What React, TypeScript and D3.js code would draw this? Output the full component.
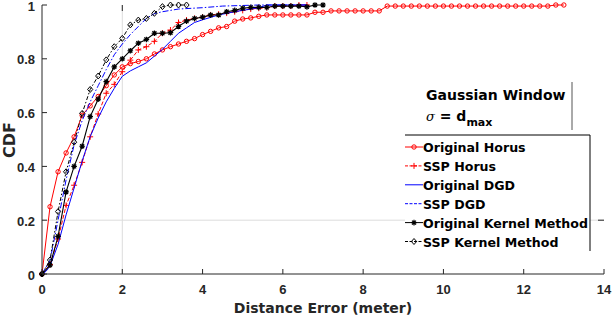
import React from 'react';
import * as d3 from 'd3';

// CDF curves (distance error in meter, cumulative fraction)
const originalHorus: [number, number][] = [
  [0, 0], [0.2, 0.25], [0.4, 0.38], [0.6, 0.45], [0.8, 0.51], [1.0, 0.59], [1.2, 0.625], [1.4, 0.66],
  [1.6, 0.7], [1.8, 0.74], [2.0, 0.77], [2.2, 0.782], [2.4, 0.79], [2.6, 0.8], [2.8, 0.818], [3.0, 0.833],
  [3.2, 0.845], [3.4, 0.855], [3.6, 0.865], [3.8, 0.875], [4.0, 0.89], [4.2, 0.902], [4.4, 0.915],
  [4.6, 0.92], [4.8, 0.94], [5.0, 0.948], [5.2, 0.952], [5.4, 0.958], [5.6, 0.963], [5.8, 0.963],
  [6.0, 0.963], [6.2, 0.963], [6.4, 0.963], [6.6, 0.963], [6.8, 0.973], [7.0, 0.973], [7.2, 0.978],
  [7.4, 0.978], [7.6, 0.978], [7.8, 0.978], [8.0, 0.978], [8.2, 0.978], [8.4, 0.978], [8.6, 0.996],
  [8.8, 0.996], [9.0, 0.996], [9.2, 0.996], [9.4, 0.996], [9.6, 0.996], [9.8, 0.996], [10.0, 0.996],
  [10.2, 0.996], [10.4, 0.996], [10.6, 0.996], [10.8, 0.996], [11.0, 0.996], [11.2, 0.996], [11.4, 0.996],
  [11.6, 0.996], [11.8, 0.996], [12.0, 0.996], [12.2, 0.996], [12.4, 0.996], [12.6, 0.996], [12.8, 1],
  [13.0, 1],
];

const sspHorus: [number, number][] = [
  [0, 0], [0.2, 0.035], [0.4, 0.13], [0.6, 0.255], [0.8, 0.33], [1.0, 0.415], [1.2, 0.51], [1.4, 0.595],
  [1.6, 0.672], [1.8, 0.705], [2.0, 0.752], [2.2, 0.795], [2.4, 0.833], [2.6, 0.845], [2.8, 0.865],
  [3.0, 0.895], [3.2, 0.907], [3.4, 0.935], [3.6, 0.944], [3.8, 0.95], [4.0, 0.955], [4.2, 0.963],
  [4.4, 0.966], [4.6, 0.97], [4.8, 0.975], [5.0, 0.98], [5.2, 0.985], [5.4, 0.988], [5.6, 0.99],
  [5.8, 0.996], [6.0, 0.996], [6.2, 0.996], [6.4, 1], [6.6, 1],
];

const originalDGD: [number, number][] = [
  [0, 0], [0.1, 0.01], [0.2, 0.03], [0.4, 0.11], [0.6, 0.22], [0.8, 0.32], [1.0, 0.42], [1.2, 0.51],
  [1.4, 0.58], [1.6, 0.64], [1.8, 0.69], [2.0, 0.735], [2.2, 0.755], [2.4, 0.77], [2.6, 0.785],
  [2.8, 0.81], [3.0, 0.835], [3.2, 0.865], [3.4, 0.895], [3.6, 0.915], [3.8, 0.935], [4.0, 0.945],
  [4.4, 0.963], [4.8, 0.975], [5.2, 0.985], [5.4, 0.99], [5.6, 1], [6.6, 1],
];

const sspDGD: [number, number][] = [
  [0, 0], [0.2, 0.05], [0.4, 0.2], [0.6, 0.35], [0.8, 0.48], [1.0, 0.57], [1.2, 0.64], [1.4, 0.7],
  [1.6, 0.76], [1.8, 0.815], [2.0, 0.855], [2.2, 0.89], [2.4, 0.92], [2.6, 0.95], [2.8, 0.968],
  [3.0, 0.975], [3.4, 0.985], [4.0, 0.99], [4.5, 0.996], [5.4, 1], [6.6, 1],
];

const originalKernel: [number, number][] = [
  [0, 0], [0.2, 0.033], [0.4, 0.14], [0.6, 0.305], [0.8, 0.4], [1.0, 0.475], [1.2, 0.585], [1.4, 0.65],
  [1.6, 0.715], [1.8, 0.77], [2.0, 0.8], [2.2, 0.83], [2.4, 0.858], [2.6, 0.872], [2.8, 0.895],
  [3.0, 0.895], [3.2, 0.897], [3.4, 0.92], [3.6, 0.94], [3.8, 0.95], [4.0, 0.955], [4.2, 0.963],
  [4.4, 0.963], [4.6, 0.975], [4.8, 0.98], [5.0, 0.988], [5.2, 0.991], [5.4, 0.991], [5.6, 0.991],
  [5.8, 0.996], [6.0, 0.996], [6.2, 0.996], [6.4, 0.996], [6.6, 0.993], [6.8, 1], [7.0, 1],
];

const sspKernel: [number, number][] = [
  [0, 0], [0.2, 0.052], [0.4, 0.232], [0.6, 0.38], [0.8, 0.49], [1.0, 0.597], [1.2, 0.686], [1.4, 0.736],
  [1.6, 0.796], [1.8, 0.845], [2.0, 0.876], [2.2, 0.926], [2.4, 0.944], [2.6, 0.95], [2.8, 0.969],
  [3.0, 0.994], [3.2, 1], [3.4, 1], [3.6, 1],
];

const xTicks = [0, 2, 4, 6, 8, 10, 12, 14];
const yTicks = [0, 0.2, 0.4, 0.6, 0.8, 1];

type Marker = 'circle' | 'plus' | 'star' | 'diamond' | 'none';

const series = [
  { name: 'Original Horus', data: originalHorus, color: '#ff0000', dash: '', marker: 'circle' as Marker, width: 1 },
  { name: 'SSP Horus', data: sspHorus, color: '#ff0000', dash: '4,2', marker: 'plus' as Marker, width: 1 },
  { name: 'Original DGD', data: originalDGD, color: '#0000ff', dash: '', marker: 'none' as Marker, width: 1 },
  { name: 'SSP DGD', data: sspDGD, color: '#0000ff', dash: '6,2,1.5,2', marker: 'none' as Marker, width: 1 },
  { name: 'Original Kernel Method', data: originalKernel, color: '#000000', dash: '', marker: 'star' as Marker, width: 1.1 },
  { name: 'SSP Kernel Method', data: sspKernel, color: '#000000', dash: '4,2,1.5,2', marker: 'diamond' as Marker, width: 1 },
];

const FONT = '"Liberation Sans", Arial, sans-serif';
const WIDE = '"DejaVu Sans", sans-serif';

const MarkerShape = ({ type, x, y, color }: { type: Marker; x: number; y: number; color: string }) => {
  if (type === 'circle') {
    return <circle cx={x} cy={y} r={2.2} fill="none" stroke={color} strokeWidth={1} />;
  }
  if (type === 'plus') {
    return (
      <path d={`M${x - 3},${y}H${x + 3}M${x},${y - 3}V${y + 3}`} stroke={color} strokeWidth={1} />
    );
  }
  if (type === 'star') {
    const s = 2.8;
    const d = 2;
    return (
      <path
        d={`M${x - s},${y}H${x + s}M${x},${y - s}V${y + s}M${x - d},${y - d}L${x + d},${y + d}M${x - d},${y + d}L${x + d},${y - d}`}
        stroke={color}
        strokeWidth={1.2}
      />
    );
  }
  if (type === 'diamond') {
    return (
      <path d={`M${x},${y - 3}L${x + 2.6},${y}L${x},${y + 3}L${x - 2.6},${y}Z`} fill="none" stroke={color} strokeWidth={1} />
    );
  }
  return null;
};

const App = () => {
  const width = 612;
  const height = 318;
  const x = d3.scaleLinear().domain([0, 14]).range([42, 604]);
  const y = d3.scaleLinear().domain([0, 1]).range([274, 5]);

  const line = d3
    .line<[number, number]>()
    .x(d => x(d[0]))
    .y(d => y(d[1]));

  const axisColor = '#262626';
  const gridColor = '#dcdcdc';

  // legend layout
  const legX = 405;
  const legTop = 135;
  const legRight = 590;
  const rowY = (i: number) => 147 + i * 18.9;

  return (
    <svg
      width={width}
      height={height}
      style={{ position: 'absolute', left: 0, top: 0, background: '#fff' }}
      fontFamily={FONT}
    >
      <rect x={0} y={0} width={width} height={height} fill="#fff" />

      {/* grid lines at x = 2 and y = 0.2 */}
      <line x1={x(2)} x2={x(2)} y1={y(1)} y2={y(0)} stroke={gridColor} strokeWidth={1} />
      <line x1={x(0)} x2={x(14)} y1={y(0.2)} y2={y(0.2)} stroke={gridColor} strokeWidth={1} />
      <line x1={x(2)} x2={x(2)} y1={y(1)} y2={y(1) + 6} stroke={axisColor} strokeWidth={1} />
      <line x1={x(14) - 6} x2={x(14)} y1={y(0.2)} y2={y(0.2)} stroke={axisColor} strokeWidth={1} />

      {/* curves */}
      {series.map(s => (
        <g key={s.name}>
          <path d={line(s.data) || ''} fill="none" stroke={s.color} strokeWidth={s.width} strokeDasharray={s.dash} />
          {s.data.map((d, i) => (
            <MarkerShape key={i} type={s.marker} x={x(d[0])} y={y(d[1])} color={s.color} />
          ))}
        </g>
      ))}

      {/* axes */}
      <line x1={x(0)} x2={x(14)} y1={y(0)} y2={y(0)} stroke={axisColor} strokeWidth={1} />
      <line x1={x(0)} x2={x(0)} y1={y(0)} y2={y(1)} stroke={axisColor} strokeWidth={1} />
      {xTicks.map(t => (
        <g key={'x' + t}>
          <line x1={x(t)} x2={x(t)} y1={y(0)} y2={y(0) - 5} stroke={axisColor} strokeWidth={1} />
          <text x={x(t)} y={294} textAnchor="middle" fontSize={13} fontWeight="bold" fill={axisColor}>
            {t}
          </text>
        </g>
      ))}
      {yTicks.map(t => (
        <g key={'y' + t}>
          <line x1={x(0)} x2={x(0) + 5} y1={y(t)} y2={y(t)} stroke={axisColor} strokeWidth={1} />
          <text x={35} y={y(t) + 5.5} textAnchor="end" fontSize={13} fontWeight="bold" fill={axisColor}>
            {t}
          </text>
        </g>
      ))}

      {/* axis labels */}
      <text
        transform={`translate(15,140) rotate(-90)`}
        textAnchor="middle"
        fontFamily={WIDE}
        fontSize={16}
        fontWeight="bold"
        fill={axisColor}
      >
        CDF
      </text>
      <text x={323} y={313} textAnchor="middle" fontFamily={WIDE} fontSize={14} fontWeight="bold" fill={axisColor}>
        Distance Error (meter)
      </text>

      {/* annotation */}
      <rect x={395} y={82} width={177} height={48} fill="#fff" />
      <line x1={572} x2={572} y1={82} y2={130} stroke="#555" strokeWidth={1} />
      <text x={426} y={100} fontFamily={WIDE} fontSize={14} fontWeight="bold" fill="#000">
        Gaussian Window
      </text>
      <text x={426} y={121} fontFamily={WIDE} fontSize={14} fill="#000">
        <tspan fontStyle="italic" fontFamily="'DejaVu Serif', serif" fontSize={13}>σ</tspan>
        <tspan fontWeight="bold"> = d</tspan>
        <tspan fontWeight="bold" fontSize={11} dy={5}>max</tspan>
      </text>

      {/* legend */}
      <rect x={legX} y={legTop} width={legRight - legX} height={116} fill="#fff" />
      <line x1={legX} x2={legRight} y1={legTop} y2={legTop} stroke="#000" strokeWidth={1} />
      <line x1={legRight} x2={legRight} y1={legTop} y2={251} stroke="#000" strokeWidth={1} />
      {series.map((s, i) => (
        <g key={'leg' + s.name}>
          <line
            x1={legX}
            x2={legX + 18}
            y1={rowY(i)}
            y2={rowY(i)}
            stroke={s.color}
            strokeWidth={1}
            strokeDasharray={s.dash ? '3,1.5' : ''}
          />
          <MarkerShape type={s.marker} x={legX + 9} y={rowY(i)} color={s.color} />
          <text x={legX + 18} y={rowY(i) + 5} fontFamily={WIDE} fontSize={12.6} fontWeight="bold" fill="#000">
            {s.name}
          </text>
        </g>
      ))}
    </svg>
  );
};

export default App;
